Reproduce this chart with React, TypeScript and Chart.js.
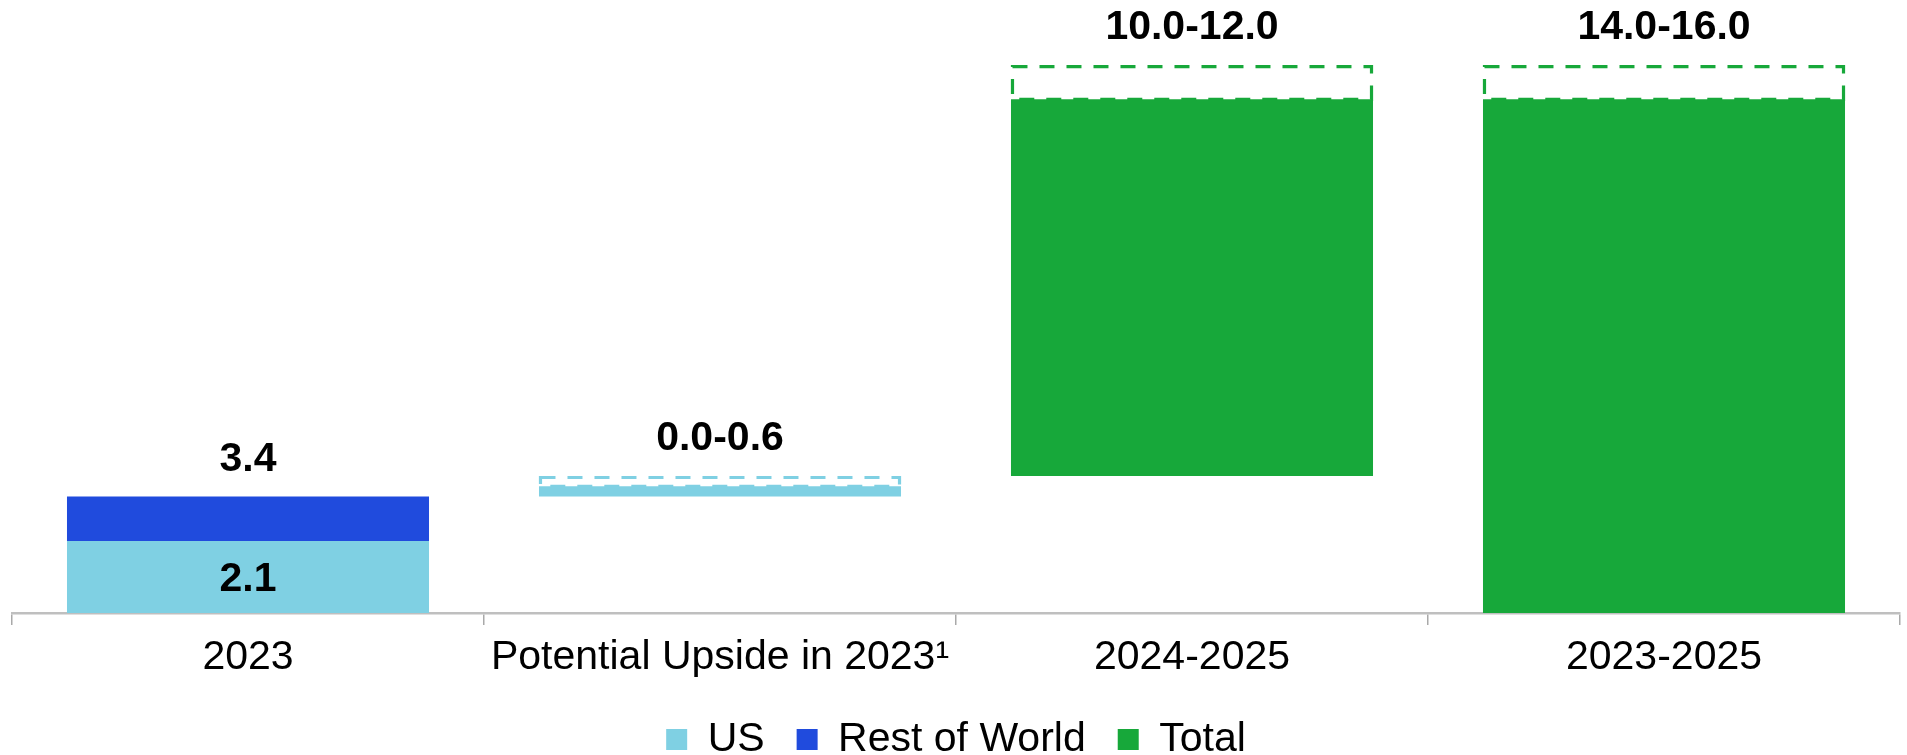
import React, { useEffect, useRef } from 'react';
import { Chart, registerables } from 'chart.js';

Chart.register(...registerables);

const categories = ['2023', 'Potential Upside in 2023¹', '2024-2025', '2023-2025'];
const barBase = [0, 3.4, 4.0, 0];
const usValues = [2.1, 0.3, null, null];
const rowValues = [1.3, null, null, null];
const totalValues = [null, null, 11.0, 15.0];
const rangeLow = [null, 0.0, 10.0, 14.0];
const rangeHigh = [null, 0.6, 12.0, 16.0];
const topLabels = ['3.4', '0.0-0.6', '10.0-12.0', '14.0-16.0'];
const insideLabels = ['2.1', '', '', ''];

const LIGHT_BLUE = '#7FD0E3';
const BLUE = '#204BDD';
const GREEN = '#17A83A';
const rangeColors = [LIGHT_BLUE, LIGHT_BLUE, GREEN, GREEN];
const FONT = '"Liberation Sans", Arial, sans-serif';

const usData = usValues.map((v, i) => (v == null ? null : [barBase[i], barBase[i] + v]));
const rowData = rowValues.map((v, i) =>
  v == null ? null : [barBase[i] + (usValues[i] ?? 0), barBase[i] + (usValues[i] ?? 0) + v]
);
const totalData = totalValues.map((v, i) => (v == null ? null : [barBase[i], barBase[i] + v]));
const rangeData = rangeHigh.map((h, i) =>
  h == null ? null : [barBase[i] + ((rangeLow[i] as number) + h) / 2, barBase[i] + h]
);

const dashedRangePlugin = {
  id: 'dashedRange',
  afterDatasetsDraw(chart: any) {
    const ctx = chart.ctx;
    const idx = chart.data.datasets.findIndex((d: any) => d.isRange);
    if (idx < 0) return;
    const meta = chart.getDatasetMeta(idx);
    ctx.save();
    ctx.lineWidth = 3.2;
    ctx.setLineDash([15, 12]);
    meta.data.forEach((el: any, i: number) => {
      if (rangeData[i] == null) return;
      const p = el.getProps(['x', 'y', 'base', 'width'], true);
      ctx.strokeStyle = rangeColors[i];
      const top = Math.min(p.y, p.base);
      const bottom = Math.max(p.y, p.base);
      ctx.strokeRect(p.x - p.width / 2 + 1.5, top + 1.5, p.width - 3, bottom - top - 1.5);
    });
    ctx.restore();
  },
};

const labelPlugin = {
  id: 'barLabels',
  afterDatasetsDraw(chart: any) {
    const ctx = chart.ctx;
    ctx.save();
    ctx.font = `bold 41px ${FONT}`;
    ctx.fillStyle = '#000';
    ctx.textAlign = 'center';
    ctx.textBaseline = 'middle';
    categories.forEach((_, i) => {
      let top = Infinity;
      let x = 0;
      chart.data.datasets.forEach((ds: any, di: number) => {
        if (ds.data[i] == null) return;
        const el = chart.getDatasetMeta(di).data[i];
        const p = el.getProps(['x', 'y', 'base'], true);
        top = Math.min(top, p.y, p.base);
        x = p.x;
      });
      if (top < Infinity) ctx.fillText(topLabels[i], x, top - 37);
      if (insideLabels[i]) {
        const el = chart.getDatasetMeta(0).data[i];
        const p = el.getProps(['x', 'y', 'base'], true);
        ctx.fillText(insideLabels[i], p.x, (p.y + p.base) / 2 + 3);
      }
    });
    ctx.restore();
  },
};

export default function App() {
  const ref = useRef<HTMLCanvasElement | null>(null);
  useEffect(() => {
    if (!ref.current) return;
    const chart = new Chart(ref.current, {
      type: 'bar',
      data: {
        labels: categories,
        datasets: [
          { label: 'US', data: usData as any, backgroundColor: LIGHT_BLUE, grouped: false, borderWidth: 0 },
          { label: 'Rest of World', data: rowData as any, backgroundColor: BLUE, grouped: false, borderWidth: 0 },
          { label: 'Total', data: totalData as any, backgroundColor: GREEN, grouped: false, borderWidth: 0 },
          {
            label: 'Range',
            data: rangeData as any,
            backgroundColor: 'rgba(0,0,0,0)',
            borderWidth: 0,
            grouped: false,
            isRange: true,
          } as any,
        ],
      },
      options: {
        animation: false,
        responsive: true,
        maintainAspectRatio: false,
        devicePixelRatio: 1,
        categoryPercentage: 1,
        barPercentage: 0.767,
        layout: { padding: { left: 12, right: 7, top: 0, bottom: -15 } },
        scales: {
          x: {
            afterFit: (scale: any) => {
              scale.height = 74;
            },
            grid: {
              offset: true,
              drawOnChartArea: false,
              drawTicks: true,
              tickLength: 12,
              color: '#a9a9a9',
              lineWidth: 1.5,
            },
            border: { display: true, color: '#bfbfbf', width: 2.5 },
            ticks: {
              font: { family: FONT, size: 41 },
              color: '#000',
              padding: 8,
              maxRotation: 0,
              autoSkip: false,
            },
          },
          y: { display: false, min: 0, max: 17.9 },
        },
        plugins: {
          legend: {
            position: 'bottom',
            labels: {
              filter: (item: any) => item.text !== 'Range',
              boxWidth: 21,
              boxHeight: 21,
              padding: 32,
              color: '#000',
              font: { family: FONT, size: 41 },
            },
          },
          tooltip: { enabled: false },
        },
      } as any,
      plugins: [dashedRangePlugin, labelPlugin],
    });
    return () => chart.destroy();
  }, []);
  return (
    <div style={{ position: 'fixed', left: 0, top: 0, width: 1907, height: 755, background: '#fff' }}>
      <canvas ref={ref} />
    </div>
  );
}
